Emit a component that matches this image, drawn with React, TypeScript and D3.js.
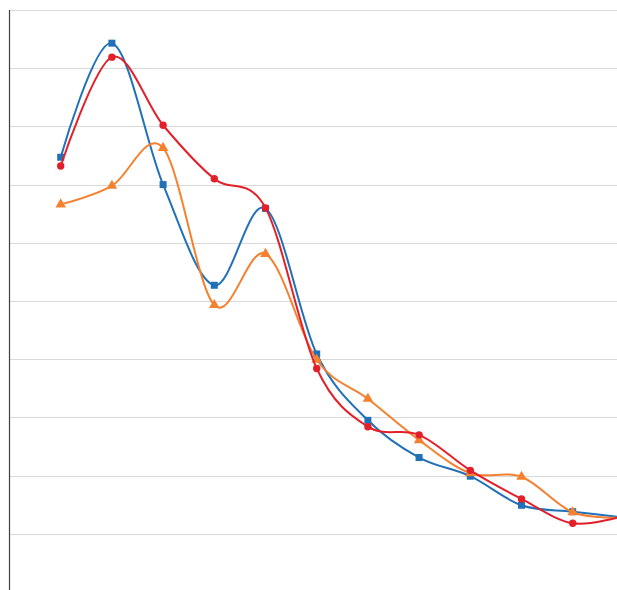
import React from "react";
import * as d3 from "d3";

const categories = [1, 2, 3, 4, 5, 6, 7, 8, 9, 10, 11, 12];
const blueValues = [7.47, 9.43, 7.0, 5.27, 6.59, 4.09, 2.95, 2.31, 1.99, 1.49, 1.38, 1.28];
const redValues = [7.32, 9.19, 8.02, 7.1, 6.6, 3.84, 2.84, 2.7, 2.09, 1.6, 1.18, 1.31];
const orangeValues = [6.66, 6.98, 7.63, 4.93, 5.81, 3.99, 3.32, 2.61, 2.04, 1.98, 1.37, 1.28];
const gridTicks = [1, 2, 3, 4, 5, 6, 7, 8, 9, 10];

const W = 617;
const H = 590;

export default function App() {
  const x = d3.scaleLinear().domain([0, 12]).range([9.5, 9.5 + 51.2 * 12]);
  const y = d3.scaleLinear().domain([0, 10]).range([592, 10]);
  const line = d3
    .line<number>()
    .x((_, i) => x(categories[i]))
    .y((d) => y(d))
    .curve(d3.curveCardinal.tension(0));

  const series = [
    { values: blueValues, color: "#2171b9", marker: "square" },
    { values: orangeValues, color: "#f5812f", marker: "triangle" },
    { values: redValues, color: "#e3202a", marker: "circle" },
  ];
  const tri = d3.symbol().type(d3.symbolTriangle).size(48)() as string;

  return (
    <div style={{ position: "fixed", left: 0, top: 0, width: W, height: H, overflow: "hidden" }}>
      <svg width={W} height={H} style={{ display: "block" }}>
        {gridTicks.map((t) => (
          <line key={t} x1={9} x2={W} y1={Math.round(y(t)) + 0.5} y2={Math.round(y(t)) + 0.5} stroke="#d9d9d9" strokeWidth={1} />
        ))}
        <line x1={9.5} x2={9.5} y1={10} y2={H} stroke="#404040" strokeWidth={1.2} />
        {series.map((s, si) => (
          <g key={si}>
            <path d={line(s.values) || ""} fill="none" stroke={s.color} strokeWidth={2} />
            {s.values.map((v, i) => {
              const cx = x(categories[i]);
              const cy = y(v);
              if (s.marker === "square")
                return <rect key={i} x={cx - 3.5} y={cy - 3.5} width={7} height={7} fill={s.color} />;
              if (s.marker === "circle") return <circle key={i} cx={cx} cy={cy} r={3.7} fill={s.color} />;
              return <path key={i} d={tri} transform={`translate(${cx},${cy})`} fill={s.color} />;
            })}
          </g>
        ))}
      </svg>
    </div>
  );
}
